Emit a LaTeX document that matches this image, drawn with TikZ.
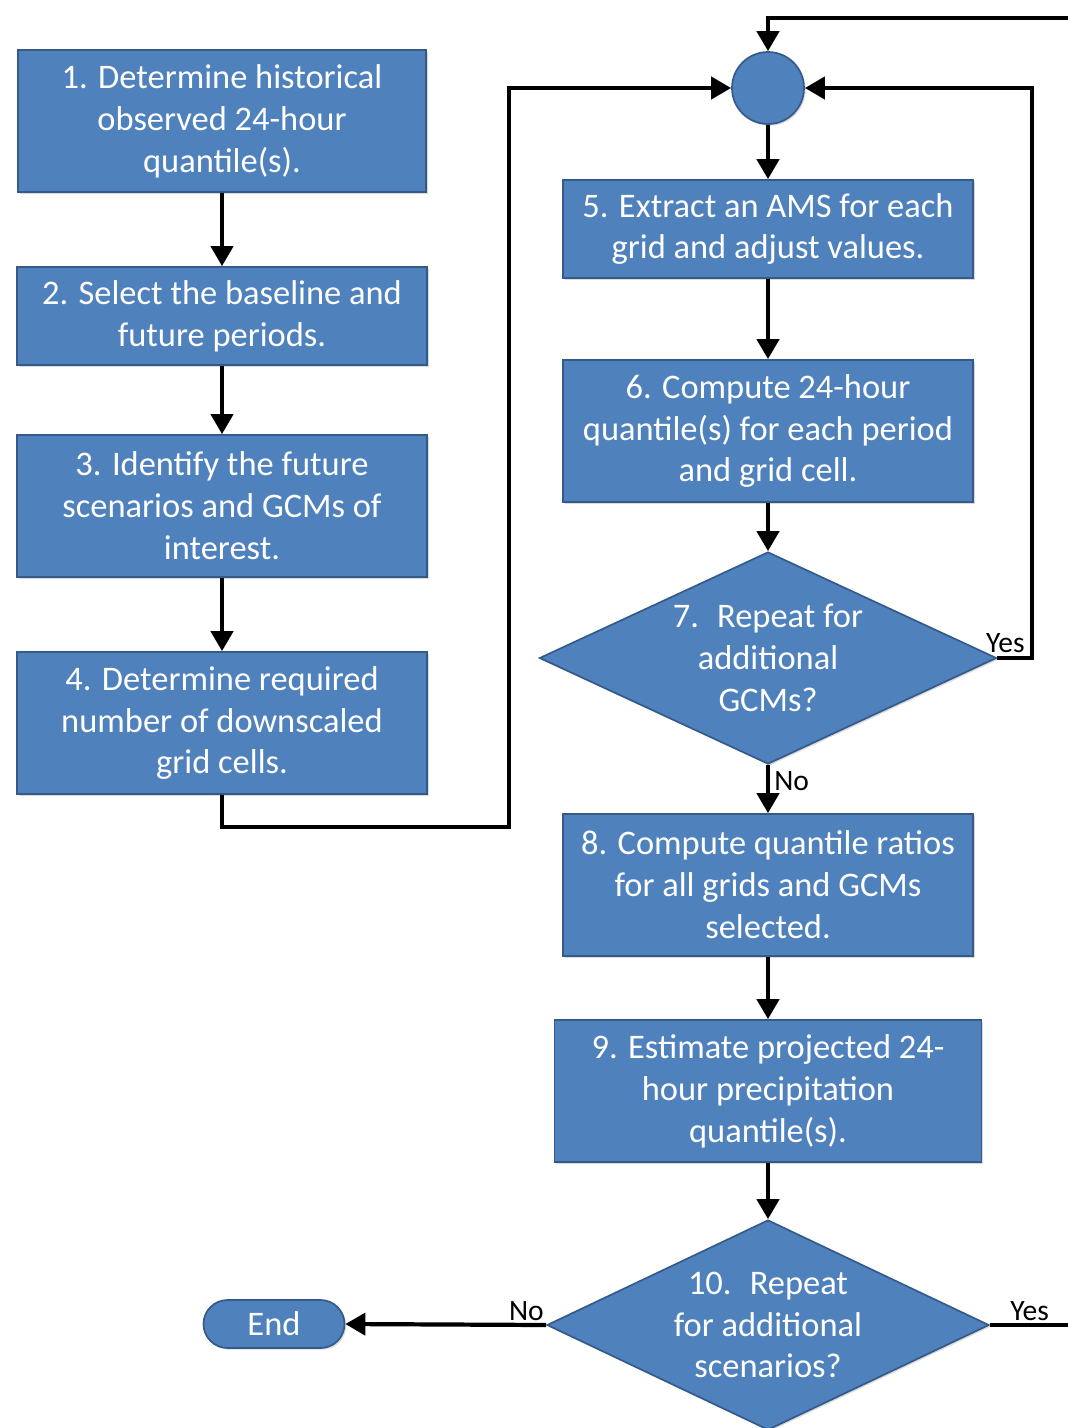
\documentclass[tikz,border=0pt]{standalone}
\usepackage{fontspec}
\setmainfont{Carlito}
\usetikzlibrary{shapes.geometric,arrows.meta,shadows}
\definecolor{StepBlue}{RGB}{79,129,189}
\definecolor{StepEdge}{RGB}{52,90,138}
\tikzset{
    stepbox/.style={draw=StepEdge, line width=1.2pt, fill=StepBlue, text=white,
        align=center, inner sep=0pt, font=\fontsize{24.5}{29.8}\selectfont,
        drop shadow={opacity=0.3, shadow xshift=1.2pt, shadow yshift=-1.2pt}},
    decision/.style={stepbox, diamond, shape aspect=2.1, inner sep=-0.6cm},
    flow/.style={line width=3pt, -{Triangle[length=0.5cm,width=0.55cm]}},
    answer/.style={font=\fontsize{21}{24}\selectfont, inner sep=1.5pt}
}
\newcommand\FlowBox[6][10.25]{%
    \node[stepbox, minimum width=#1cm, minimum height=#5cm] (#2) at (#3,#4) {#6};
}

\begin{document}
\begin{tikzpicture}[x=0.025cm, y=-0.025cm]
    \useasboundingbox (0,0) rectangle (1067,1428);
    % left column
    \FlowBox[10.2]{StepA}{222}{121}{3.55}{1. Determine historical\\observed 24-hour\\quantile(s).}
    \FlowBox{StepB}{222}{316}{2.45}{2. Select the baseline and\\future periods.}
    \FlowBox{StepC}{222}{506}{3.55}{3. Identify the future\\scenarios and GCMs of\\interest.}
    \FlowBox{StepD}{222}{723}{3.55}{4. Determine required\\number of downscaled\\grid cells.}
    % right column
    \node[stepbox, circle, minimum size=1.8cm] (Join) at (768,88) {};
    \FlowBox{StepE}{768}{229}{2.45}{5. Extract an AMS for each\\grid and adjust values.}
    \FlowBox{StepF}{768}{431}{3.55}{6. Compute 24-hour\\quantile(s) for each period\\and grid cell.}
    \node[decision, minimum width=11.425cm, minimum height=5.3cm] (AskGCM) at (768,658)
        {7.~ Repeat for\\additional\\GCMs?};
    \FlowBox{StepH}{768}{885}{3.55}{8. Compute quantile ratios\\for all grids and GCMs\\selected.}
    \FlowBox[10.675]{StepI}{768}{1091}{3.55}{9. Estimate projected 24-\\hour precipitation\\quantile(s).}
    \node[decision, minimum width=11.05cm, minimum height=5.25cm] (AskScen) at (768,1325)
        {10.~ Repeat\\for additional\\scenarios?};
    \node[stepbox, rounded corners=0.6cm, minimum width=3.525cm, minimum height=1.2cm] (End) at (274,1324) {End};

    \coordinate (LoopLow) at (509,827);
    \coordinate (LoopGCM) at (1032,656);
    \coordinate (LoopOut) at (1090,1323);
    \coordinate (LoopTop) at (768,18);

    \draw[flow] (StepA) -- (StepB);
    \draw[flow] (StepB) -- (StepC);
    \draw[flow] (StepC) -- (StepD);
    \draw[flow] (StepD.south) |- (LoopLow) |- (Join.west);
    \draw[flow] (Join) -- (StepE);
    \draw[flow] (StepE) -- (StepF);
    \draw[flow] (StepF) -- (AskGCM);
    \draw[flow] (AskGCM.east) -- (AskGCM.east -| LoopGCM) |- (Join.east);
    \draw[flow] (AskGCM) -- (StepH);
    \draw[flow] (StepH) -- (StepI);
    \draw[flow] (StepI) -- (AskScen);
    \draw[flow] (AskScen.west) -- (End.east);
    \draw[flow] (AskScen.east) -- (AskScen.east -| LoopOut) |- (LoopTop) -- (Join.north);

    \node[answer, above] (YesGCM) at ([xshift=0.2cm,yshift=0.08cm]AskGCM.east) {Yes};
    \node[answer, right] (NoGCM) at ([xshift=0.1cm,yshift=-0.4cm]AskGCM.south) {No};
    \node[answer, above left] (NoScen) at ([yshift=0.05cm]AskScen.west) {No};
    \node[answer, above right] (YesScen) at ([xshift=0.45cm,yshift=0.05cm]AskScen.east) {Yes};
\end{tikzpicture}
\end{document}
